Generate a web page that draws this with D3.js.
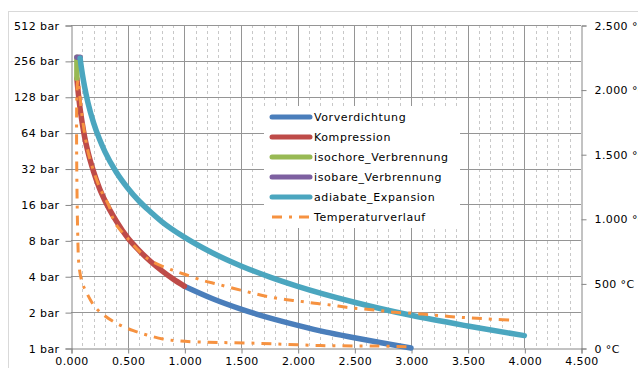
<!DOCTYPE html>
<html>
<head>
<meta charset="utf-8">
<script src="https://cdn.jsdelivr.net/npm/d3@7"></script>
<style>
  body { margin: 0; background: #fff; }
  svg { display: block; font-family: "DejaVu Sans", Verdana, sans-serif; }
</style>
</head>
<body>
<svg id="chart"></svg>
<script>
// chart size
const width = 638;
const height = 368;

// volume (x) and pressure (bar) values for every process
const vorV = [1.0, 1.25, 1.5, 1.75, 2.0, 2.25, 2.5, 2.75, 3.0];
const vorP = [3.3, 2.59, 2.12, 1.79, 1.55, 1.36, 1.22, 1.10, 1.0];

const kompV = [0.052, 0.06, 0.07, 0.08, 0.1, 0.12, 0.15, 0.2, 0.25, 0.3, 0.4, 0.5, 0.6, 0.7, 0.8, 0.9, 1.0];
const kompP = [182, 150, 122, 102, 76, 59, 44, 30, 22, 17.2, 11.6, 8.4, 6.6, 5.34, 4.46, 3.8, 3.3];

const isochorV = [0.052, 0.052];
const isochorP = [182, 275];

const isobarV = [0.052, 0.08];
const isobarP = [275, 275];

const adiaV = [0.08, 0.09, 0.1, 0.12, 0.15, 0.2, 0.25, 0.3, 0.4, 0.5, 0.6, 0.7, 0.8, 1.0, 1.25, 1.5, 1.75, 2.0, 2.5, 3.0, 3.5, 4.0];
const adiaP = [270, 230, 199, 155, 114, 77, 56.8, 44.2, 29.8, 22.0, 17.1, 13.9, 11.5, 8.5, 6.26, 4.88, 3.95, 3.29, 2.42, 1.88, 1.53, 1.27];

// temperature (°C, right axis)
const tempV = [2.96, 2.7, 2.2, 1.67, 1.4, 1.2, 0.96, 0.81, 0.67, 0.55, 0.42, 0.3, 0.21, 0.14, 0.1, 0.073, 0.059, 0.057,
               0.065, 0.075, 0.1, 0.13, 0.161, 0.25, 0.338, 0.382, 0.49, 0.68, 0.89, 1.02, 1.17, 1.29, 1.43, 1.58, 1.71,
               1.86, 2.0, 2.15, 2.29, 2.43, 2.58, 2.73, 2.86, 3.02, 3.15, 3.29, 3.43, 3.58, 3.73, 3.92];
const tempT = [10, 15, 19, 36, 41, 44, 54, 70, 101, 134, 183, 248, 320, 423, 503, 619, 890, 2050,
               2075, 1980, 1780, 1610, 1481, 1248, 1094, 978, 859, 689, 604, 565, 521, 495, 462, 430, 402,
               379, 364, 346, 333, 315, 302, 289, 276, 269, 258, 248, 238, 230, 222, 214];

// tick values
const xTicks = [0, 0.5, 1, 1.5, 2, 2.5, 3, 3.5, 4, 4.5];
const pTicks = [1, 2, 4, 8, 16, 32, 64, 128, 256, 512];
const tTicks = [0, 500, 1000, 1500, 2000, 2500];

const seriesNames = ["Vorverdichtung", "Kompression", "isochore_Verbrennung", "isobare_Verbrennung", "adiabate_Expansion", "Temperaturverlauf"];
const colors = ["#4A7EBB", "#BE4B48", "#98B954", "#7D60A0", "#4BA6BF", "#F69240"];

const svg = d3.select("#chart")
    .attr("width", width)
    .attr("height", height);

// outer chart border
svg.append("rect")
    .attr("x", 8.5).attr("y", 11.5)
    .attr("width", 700).attr("height", 400)
    .attr("fill", "none")
    .attr("stroke", "#d9d9d9");

const plotLeft = 71, plotRight = 581, plotTop = 25, plotBottom = 348;

const x = d3.scaleLinear().domain([0, 4.5]).range([plotLeft, plotRight]);
const y = d3.scaleLog().base(2).domain([1, 512]).range([plotBottom, plotTop]);
const yT = d3.scaleLinear().domain([0, 2500]).range([plotBottom, plotTop]);

// minor vertical grid (dashed)
const minor = d3.range(1, 45).filter(i => i % 5 !== 0).map(i => i / 10);
svg.append("g").selectAll("line").data(minor).join("line")
    .attr("x1", d => Math.round(x(d)) + 0.5).attr("x2", d => Math.round(x(d)) + 0.5)
    .attr("y1", plotTop).attr("y2", plotBottom)
    .attr("stroke", "#c8c8c8")
    .attr("stroke-dasharray", "3,3");

// major vertical grid
svg.append("g").selectAll("line").data(xTicks.slice(1, -1)).join("line")
    .attr("x1", d => Math.round(x(d)) + 0.5).attr("x2", d => Math.round(x(d)) + 0.5)
    .attr("y1", plotTop).attr("y2", plotBottom)
    .attr("stroke", "#959595");

// horizontal grid
svg.append("g").selectAll("line").data(pTicks.slice(1)).join("line")
    .attr("x1", plotLeft).attr("x2", plotRight)
    .attr("y1", d => Math.round(y(d)) + 0.5).attr("y2", d => Math.round(y(d)) + 0.5)
    .attr("stroke", "#959595");

// axes
const fmtDE = d3.formatLocale({ decimal: ",", thousands: ".", grouping: [3], currency: ["", ""] }).format(",");

const xAxis = svg.append("g")
    .attr("transform", `translate(0.5,${plotBottom + 0.5})`)
    .call(d3.axisBottom(x).tickValues(xTicks).tickFormat(d3.format(".3f")).tickSize(5).tickPadding(4));

const yAxis = svg.append("g")
    .attr("transform", `translate(${plotLeft + 0.5},0.5)`)
    .call(d3.axisLeft(y).tickValues(pTicks).tickFormat(d => d + " bar").tickSize(6).tickPadding(6));

const tAxis = svg.append("g")
    .attr("transform", `translate(${plotRight + 0.5},0.5)`)
    .call(d3.axisRight(yT).tickValues(tTicks).tickFormat(d => fmtDE(d) + " °C").tickSize(5).tickPadding(8));

[xAxis, yAxis, tAxis].forEach(g => {
    g.selectAll("path, line").attr("stroke", "#868686");
    g.selectAll("text").attr("fill", "#000")
        .style("font-size", "11px")
        .style("letter-spacing", "0.4px")
        .style("font-family", "DejaVu Sans, Verdana, sans-serif");
});

// lines
const pLine = d3.line()
    .x(d => x(d[0]))
    .y(d => y(d[1]))
    .curve(d3.curveMonotoneX);

const pSeries = [
    [vorV, vorP],
    [kompV, kompP],
    [isochorV, isochorP],
    [isobarV, isobarP],
    [adiaV, adiaP]
];

pSeries.forEach(([vs, ps], i) => {
    const pts = vs.map((v, j) => [v, ps[j]]);
    svg.append("path")
        .datum(pts)
        .attr("fill", "none")
        .attr("stroke", colors[i])
        .attr("stroke-width", 5.5)
        .attr("stroke-linecap", "round")
        .attr("stroke-linejoin", "round")
        .attr("d", i === 2 ? d3.line().x(d => x(d[0])).y(d => y(d[1]))(pts) : pLine(pts));
});

// temperature
const tPts = tempV.map((v, j) => [v, tempT[j]]);
svg.append("path")
    .datum(tPts)
    .attr("fill", "none")
    .attr("stroke", colors[5])
    .attr("stroke-width", 3)
    .attr("stroke-dasharray", "10,7,3,7")
    .attr("d", d3.line().x(d => x(d[0])).y(d => yT(d[1])).curve(d3.curveCatmullRom.alpha(0.5)));

// legend
const legend = svg.append("g");
legend.append("rect")
    .attr("x", 264).attr("y", 106)
    .attr("width", 196).attr("height", 122)
    .attr("fill", "#fff");

seriesNames.forEach((name, i) => {
    const ly = 117 + i * 20;
    legend.append("line")
        .attr("x1", 272).attr("x2", 310)
        .attr("y1", ly).attr("y2", ly)
        .attr("stroke", colors[i])
        .attr("stroke-width", i === 5 ? 3 : 5)
        .attr("stroke-linecap", i === 5 ? "butt" : "round")
        .attr("stroke-dasharray", i === 5 ? "10,7,3,7" : null);
    legend.append("text")
        .attr("x", 314).attr("y", ly)
        .attr("dy", "0.35em")
        .style("font-size", "11px")
        .style("letter-spacing", "0.6px")
        .text(name);
});
</script>
</body>
</html>
